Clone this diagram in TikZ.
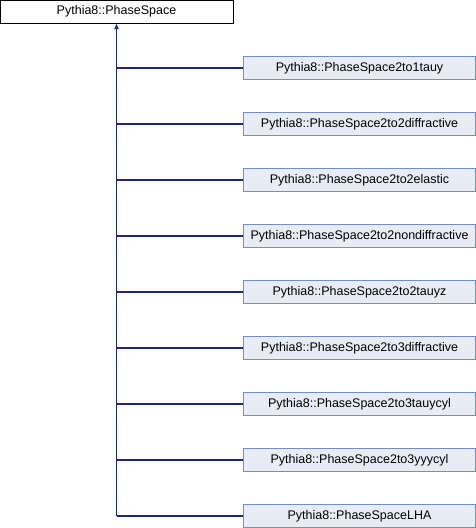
\documentclass[tikz,border=0pt]{standalone}
\usepackage{fontspec}
\setmainfont{Liberation Sans}
\usetikzlibrary{arrows.meta}
\definecolor{edgeblue}{RGB}{26,38,140}
\definecolor{boxfill}{RGB}{232,236,245}
\definecolor{boxline}{RGB}{120,140,200}
\tikzset{
    baseclass/.style={draw=black, fill=white, minimum width=233pt, minimum height=23pt, inner sep=0pt, font=\fontsize{12.5}{14}\selectfont},
    derived/.style={draw=boxline, fill=boxfill, minimum width=232pt, minimum height=23pt, inner sep=0pt, font=\fontsize{12.5}{14}\selectfont},
    inherit/.style={edgeblue, line width=1.1pt}
}
\begin{document}
\begin{tikzpicture}[x=1pt, y=-1pt]
        \useasboundingbox (0,0) rectangle (476,528);
        \node[baseclass] (base) at (116.5, 11.5) {Pythia8::PhaseSpace};
        \coordinate (trunk) at (116.5, 516);
        \draw[inherit, -{Latex[length=6pt, width=5pt]}] (trunk) -- (base.south);
        \foreach \name [count=\i from 0] in {2to1tauy, 2to2diffractive, 2to2elastic, 2to2nondiffractive, 2to2tauyz, 2to3diffractive, 2to3tauycyl, 2to3yyycyl, LHA} {
            \node[derived] (c\i) at (359.5, 68 + 56*\i) {Pythia8::PhaseSpace\name};
            \coordinate (j\i) at (116.5, 68 + 56*\i);
            \draw[inherit] (j\i) -- (c\i.west);
        }
    \end{tikzpicture}
\end{document}
